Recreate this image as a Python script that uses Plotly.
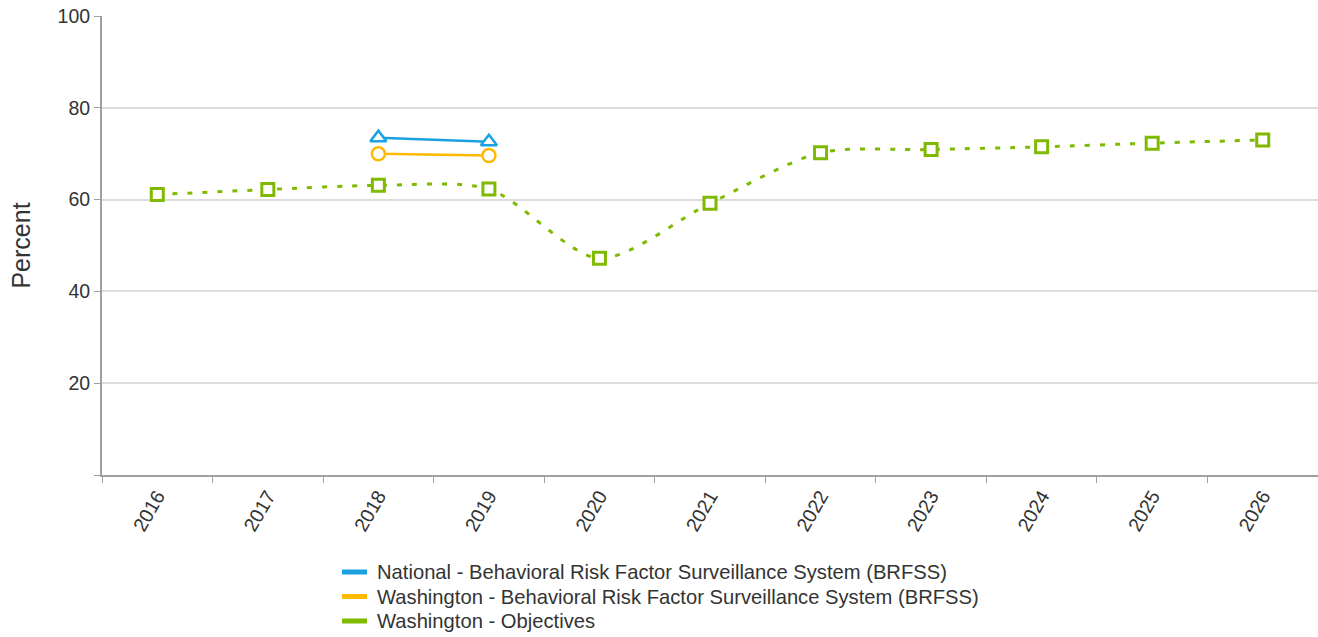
import plotly.graph_objects as go

years = ["2016", "2017", "2018", "2019", "2020", "2021", "2022", "2023", "2024", "2025", "2026"]
national_years = ["2018", "2019"]
national_vals = [73.5, 72.6]
wa_brfss_years = ["2018", "2019"]
wa_brfss_vals = [70.0, 69.6]
objectives_vals = [61.1, 62.2, 63.1, 62.3, 47.2, 59.2, 70.2, 70.9, 71.5, 72.3, 73.0]

names = [
    "National - Behavioral Risk Factor Surveillance System (BRFSS)",
    "Washington - Behavioral Risk Factor Surveillance System (BRFSS)",
    "Washington - Objectives",
]
colors = ["#1ba1e2", "#ffb900", "#7fba00"]

W, H = 1318, 637
ML, MR, MT, MB = 102, 0, 16, 162
PW, PH = W - ML - MR, H - MT - MB


def px_x(x):
    return (x - ML) / PW


def px_y(y):
    return (H - MB - y) / PH


fig = go.Figure()

# Objectives: dotted smoothed line with open squares
fig.add_trace(go.Scatter(
    x=years, y=objectives_vals, mode="lines+markers", showlegend=False,
    line=dict(color=colors[2], width=3, dash="5px,10px", shape="spline", smoothing=0.8),
    marker=dict(symbol="square", size=12, color="white",
                line=dict(color=colors[2], width=3)),
))
# National BRFSS
fig.add_trace(go.Scatter(
    x=national_years, y=national_vals, mode="lines+markers", showlegend=False,
    line=dict(color=colors[0], width=2.5),
    marker=dict(symbol="triangle-up", size=14, color="white",
                line=dict(color=colors[0], width=2.5)),
))
# Washington BRFSS
fig.add_trace(go.Scatter(
    x=wa_brfss_years, y=wa_brfss_vals, mode="lines+markers", showlegend=False,
    line=dict(color=colors[1], width=2.5),
    marker=dict(symbol="circle", size=13, color="white",
                line=dict(color=colors[1], width=2.5)),
))

# Legend below the plot: colour swatch + label per series
legend_rows = [572, 596.5, 621]
for n, c, yy in zip(names, colors, legend_rows):
    fig.add_shape(type="line", xref="paper", yref="paper",
                  x0=px_x(342), x1=px_x(367), y0=px_y(yy), y1=px_y(yy),
                  line=dict(color=c, width=5))
    fig.add_annotation(xref="paper", yref="paper", x=px_x(375), y=px_y(yy),
                       text=n, showarrow=False, xanchor="left", yanchor="middle",
                       font=dict(size=20.2, color="#333333"))

fig.update_layout(
    width=W, height=H,
    margin=dict(l=ML, r=MR, t=MT, b=MB),
    plot_bgcolor="white", paper_bgcolor="white",
    font=dict(family="Liberation Sans, Arial, sans-serif", size=19.5, color="#333333"),
    showlegend=False,
)
fig.update_xaxes(
    type="category", categoryorder="array", categoryarray=years,
    range=[-0.5, 10.5], tickson="boundaries", ticks="outside", ticklen=6,
    tickcolor="#a0a0a0", showline=True, linecolor="#a0a0a0", linewidth=2,
    showgrid=False, tickangle=-60, tickfont=dict(size=19.5, color="#333333"),
)
fig.update_yaxes(
    range=[0, 100], tickvals=[0, 20, 40, 60, 80, 100],
    ticktext=["", "20", "40", "60", "80", "100"],
    ticks="outside", ticklen=6, tickcolor="#a0a0a0",
    showline=True, linecolor="#a0a0a0", linewidth=2,
    showgrid=True, gridcolor="#dcdcdc", gridwidth=1.5, zeroline=False,
    title=dict(text="Percent", font=dict(size=25, color="#333333"), standoff=20),
    tickfont=dict(size=19.5, color="#333333"),
)

fig.write_html("out.html")
